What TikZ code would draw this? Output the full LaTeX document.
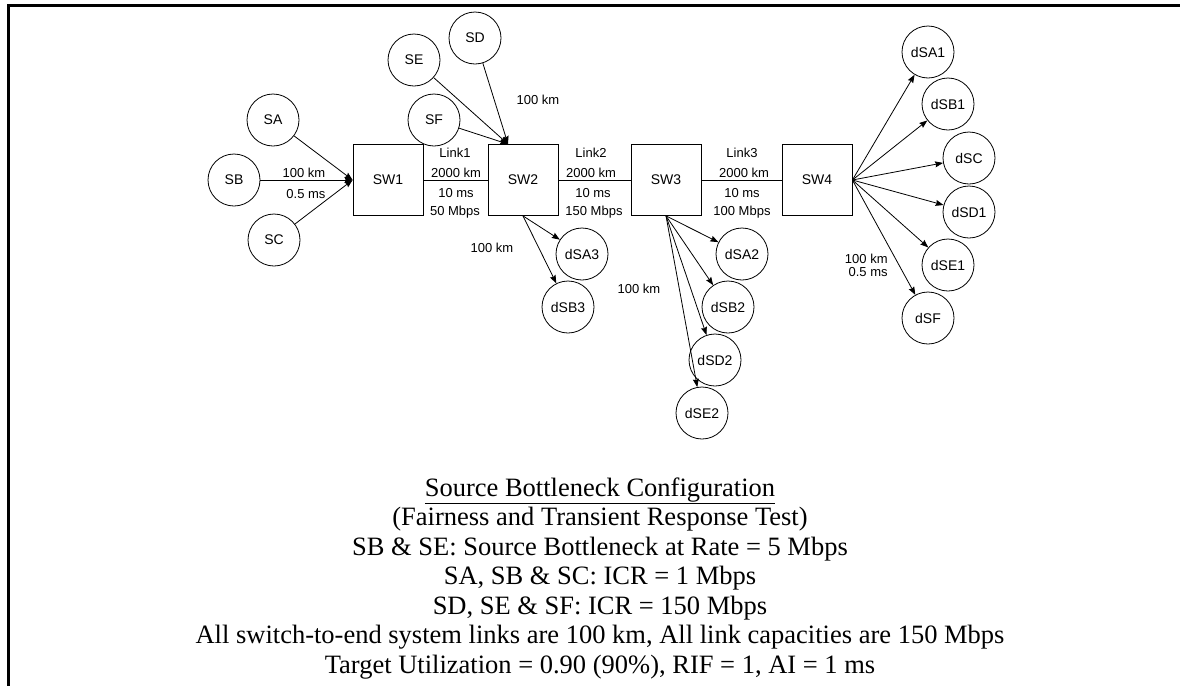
\documentclass[tikz,border=0pt]{standalone}
\usepackage{fontspec}
\setmainfont{Liberation Serif}
\setsansfont{Liberation Sans}
\usetikzlibrary{positioning,calc,arrows.meta}
\tikzstyle{endsys}=[circle, draw, line width=0.8pt, minimum size=52pt, inner sep=0pt, font=\sffamily\fontsize{14}{16}\selectfont]
\tikzstyle{swbox}=[rectangle, draw, line width=0.8pt, minimum width=70pt, minimum height=71pt, font=\sffamily\fontsize{14}{16}\selectfont]
\tikzstyle{lbl}=[inner sep=0pt, anchor=base, font=\sffamily\fontsize{13}{13}\selectfont]
\tikzstyle{captext}=[inner sep=0pt, anchor=base, font=\fontsize{26.5}{31}\selectfont]

\begin{document}
\begin{tikzpicture}[x=1pt, y=-1pt, >={Stealth[length=8pt,width=6pt,inset=1pt]}, line width=0.8pt]
    \useasboundingbox (0,0) rectangle (1180,686);
    \draw [line width=3pt] (1180,5) -- (8.7,5) -- (8.7,686);

    % sources
    \node[endsys] (SD) at (475,38) {SD};
    \node[endsys] (SE) at (414,60) {SE};
    \node[endsys] (SA) at (273,120) {SA};
    \node[endsys] (SF) at (434,120) {SF};
    \node[endsys] (SB) at (234,180) {SB};
    \node[endsys] (SC) at (274,240) {SC};

    % switches
    \node[swbox] (SW1) at (388,180) {SW1};
    \node[swbox] (SW2) at (523,180) {SW2};
    \node[swbox] (SW3) at (666,180) {SW3};
    \node[swbox] (SW4) at (817,180) {SW4};

    % destinations
    \node[endsys] (dSA3) at (582,254) {dSA3};
    \node[endsys] (dSB3) at (568,307) {dSB3};
    \node[endsys] (dSA2) at (742,254) {dSA2};
    \node[endsys] (dSB2) at (728,307) {dSB2};
    \node[endsys] (dSD2) at (715,360) {dSD2};
    \node[endsys] (dSE2) at (702,413) {dSE2};
    \node[endsys] (dSA1) at (928,52) {dSA1};
    \node[endsys] (dSB1) at (948,104) {dSB1};
    \node[endsys] (dSC) at (969,158) {dSC};
    \node[endsys] (dSD1) at (969,212) {dSD1};
    \node[endsys] (dSE1) at (948,265) {dSE1};
    \node[endsys] (dSF) at (928,318) {dSF};

    \coordinate (in2) at ($(SW2.north)+(-15,0)$);

    \draw [->] (SA) -- (SW1.west);
    \draw [->] (SB) -- (SW1.west);
    \draw [->] (SC) -- (SW1.west);
    \draw [->] (SE) -- (in2);
    \draw [->] (SD) -- (in2);
    \draw [->] (SF) -- (in2);

    \draw (SW1) -- (SW2);
    \draw (SW2) -- (SW3);
    \draw (SW3) -- (SW4);

    \draw [->] (SW2.south) -- (dSA3);
    \draw [->] (SW2.south) -- (dSB3);
    \draw [->] (SW3.south) -- (dSA2);
    \draw [->] (SW3.south) -- (dSB2);
    \draw [->] (SW3.south) -- (dSD2);
    \draw [->] (SW3.south) -- (dSE2);
    \draw [->] (SW4.east) -- (dSA1);
    \draw [->] (SW4.east) -- (dSB1);
    \draw [->] (SW4.east) -- (dSC);
    \draw [->] (SW4.east) -- (dSD1);
    \draw [->] (SW4.east) -- (dSE1);
    \draw [->] (SW4.east) -- (dSF);

    % link labels
    \node[lbl] (kmB) at (304,177) {100 km};
    \node[lbl] (msB) at (306,198) {0.5 ms};
    \node[lbl] (kmD) at (538,104) {100 km};
    \node[lbl] (kmSW2) at (492,252) {100 km};
    \node[lbl] (kmSW3) at (639,293) {100 km};
    \node[lbl, anchor=north east, align=right] (kmSW4) at (888,253.5) {100 km\\0.5 ms};

    \node[lbl] (l1a) at (455,157) {Link1};
    \node[lbl] (l1b) at (456,177) {2000 km};
    \node[lbl] (l1c) at (456,197) {10 ms};
    \node[lbl] (l1d) at (455,215) {50 Mbps};
    \node[lbl] (l2a) at (591,157) {Link2};
    \node[lbl] (l2b) at (591,177) {2000 km};
    \node[lbl] (l2c) at (593,197) {10 ms};
    \node[lbl] (l2d) at (594,215) {150 Mbps};
    \node[lbl] (l3a) at (742,157) {Link3};
    \node[lbl] (l3b) at (744,177) {2000 km};
    \node[lbl] (l3c) at (742,197) {10 ms};
    \node[lbl] (l3d) at (742,215) {100 Mbps};

    % caption
    \node[captext] (t1) at (600,496) {\underline{Source Bottleneck Configuration}};
    \node[captext] (t2) at (600,525.5) {(Fairness and Transient Response Test)};
    \node[captext] (t3) at (600,555) {SB \& SE: Source Bottleneck at Rate = 5 Mbps};
    \node[captext] (t4) at (600,584.5) {SA, SB \& SC: ICR = 1 Mbps};
    \node[captext] (t5) at (600,614) {SD, SE \& SF: ICR = 150 Mbps};
    \node[captext] (t6) at (600,643.5) {All switch-to-end system links are 100 km, All link capacities are 150 Mbps};
    \node[captext] (t7) at (600,673) {Target Utilization = 0.90 (90\%), RIF = 1, AI = 1 ms};
\end{tikzpicture}
\end{document}
